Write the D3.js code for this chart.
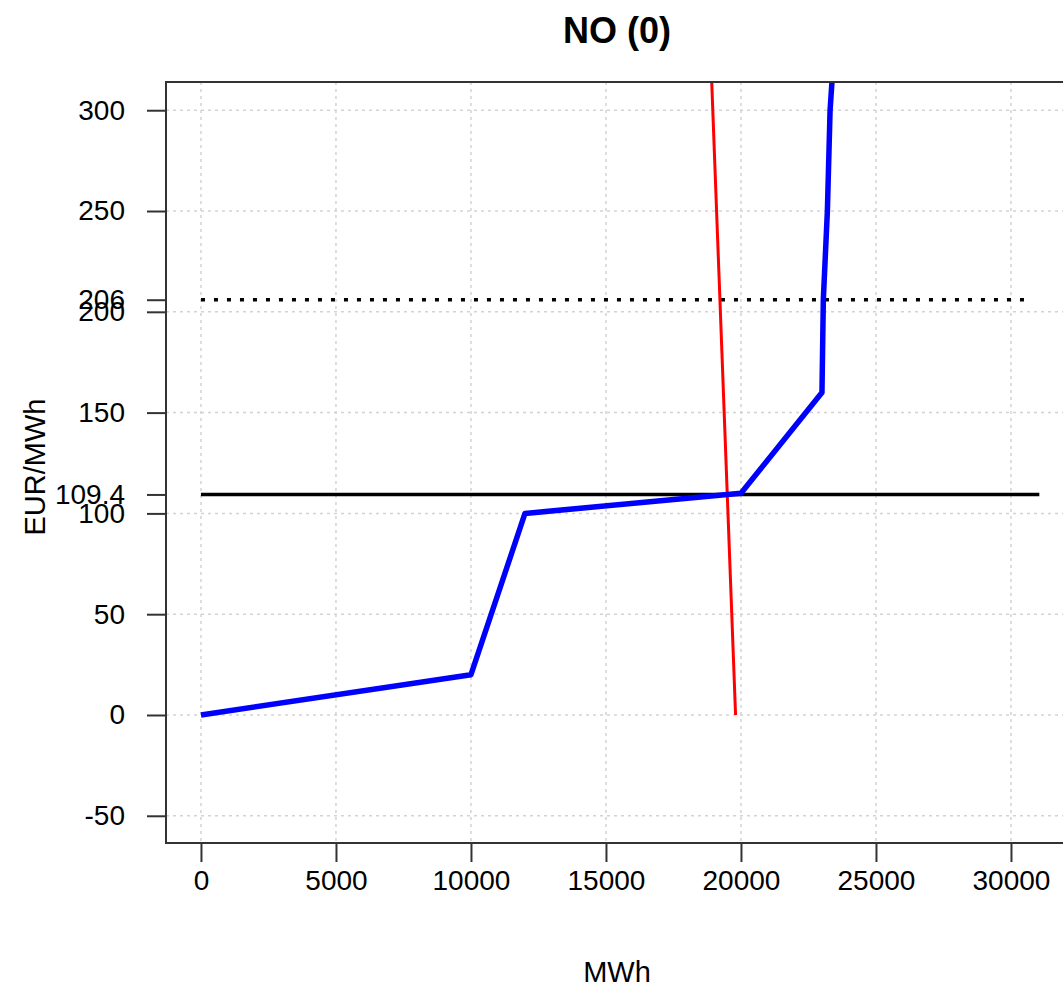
<!DOCTYPE html>
<head>
  <meta charset="utf-8">
  <style>
  body { margin: 0; background: #fff; }
  svg text { font-family: "Liberation Sans", Arial, sans-serif; fill: #000; }
  .grid line { stroke: #d3d3d3; stroke-width: 1.5px; stroke-dasharray: 3,4; }
  .axis line, .axis path { stroke: #333; stroke-width: 2px; }
  </style>
  <script src="https://d3js.org/d3.v7.min.js"></script>
</head>

<body>
  <svg width="1063" height="998"></svg>

  <script>

  // data
  var title = "NO (0)";
  var xTicks = [0, 5000, 10000, 15000, 20000, 25000, 30000];
  var yTicks = [-50, 0, 50, 100, 150, 200, 250, 300];
  var supplyMWh   = [0, 10000, 12000, 20000, 23000, 23050, 23200, 23300, 23450];
  var supplyPrice = [0, 20, 100, 110, 160, 206, 250, 300, 330];
  var demandMWh   = [19800, 18900];
  var demandPrice = [0, 320];
  var clearPrice = 109.4;
  var clearEnd = 31050;
  var capPrice = 206;
  var capEnd = 30700;

  var svg = d3.select("svg");
  var pLeft = 166, pRight = 1067, pTop = 82, pBottom = 843;

  var x = d3.scaleLinear().domain([-1295, 32075]).range([pLeft, pRight]);
  var y = d3.scaleLinear().domain([-63.5, 314]).range([pBottom, pTop]);

  svg.append("clipPath").attr("id", "plot")
    .append("rect").attr("x", pLeft).attr("y", pTop)
    .attr("width", pRight - pLeft).attr("height", pBottom - pTop);

  // grid
  var grid = svg.append("g").attr("class", "grid");
  grid.selectAll(".gx").data(xTicks).enter().append("line")
    .attr("x1", function(d) { return x(d); }).attr("x2", function(d) { return x(d); })
    .attr("y1", pTop).attr("y2", pBottom);
  grid.selectAll(".gy").data(yTicks).enter().append("line")
    .attr("y1", function(d) { return y(d); }).attr("y2", function(d) { return y(d); })
    .attr("x1", pLeft).attr("x2", pRight);

  var plot = svg.append("g").attr("clip-path", "url(#plot)");

  // reference lines
  plot.append("line")
    .attr("x1", x(0)).attr("x2", x(capEnd))
    .attr("y1", y(capPrice)).attr("y2", y(capPrice))
    .attr("stroke", "#000").attr("stroke-width", 3.5)
    .attr("stroke-dasharray", "4,9");
  plot.append("line")
    .attr("x1", x(0)).attr("x2", x(clearEnd))
    .attr("y1", y(clearPrice)).attr("y2", y(clearPrice))
    .attr("stroke", "#000").attr("stroke-width", 3.5);

  var line = d3.line()
    .x(function(d) { return x(d[0]); })
    .y(function(d) { return y(d[1]); });

  plot.append("path")
    .datum(d3.zip(demandMWh, demandPrice))
    .attr("d", line)
    .attr("fill", "none").attr("stroke", "#ff0000").attr("stroke-width", 3);

  plot.append("path")
    .datum(d3.zip(supplyMWh, supplyPrice))
    .attr("d", line)
    .attr("fill", "none").attr("stroke", "#0000ff").attr("stroke-width", 5.5)
    .attr("stroke-linejoin", "round");

  // axes
  var xAxis = svg.append("g").attr("class", "axis")
    .attr("transform", "translate(0," + pBottom + ")")
    .call(d3.axisBottom(x).tickValues(xTicks).tickFormat(d3.format("d"))
      .tickSize(19).tickSizeOuter(0).tickPadding(8));
  xAxis.select(".domain").remove();
  xAxis.selectAll("text").style("font-size", "28px");

  var yAxis = svg.append("g").attr("class", "axis")
    .attr("transform", "translate(" + pLeft + ",0)")
    .call(d3.axisLeft(y).tickValues(yTicks.concat([capPrice, clearPrice]))
      .tickFormat(function(d) { return d === clearPrice ? "109.4" : d; })
      .tickSize(19).tickSizeOuter(0).tickPadding(22));
  yAxis.select(".domain").remove();
  yAxis.selectAll("text").style("font-size", "28px");

  // box
  svg.append("rect")
    .attr("x", pLeft).attr("y", pTop)
    .attr("width", pRight - pLeft).attr("height", pBottom - pTop)
    .attr("fill", "none").attr("stroke", "#333").attr("stroke-width", 2);

  // labels
  svg.append("text")
    .attr("x", 617).attr("y", 43)
    .attr("text-anchor", "middle")
    .style("font-size", "36px").style("font-weight", "bold")
    .text(title);

  svg.append("text")
    .attr("x", 617).attr("y", 982)
    .attr("text-anchor", "middle")
    .style("font-size", "29px")
    .text("MWh");

  svg.append("text")
    .attr("transform", "translate(45,467) rotate(-90)")
    .attr("text-anchor", "middle")
    .style("font-size", "29px")
    .text("EUR/MWh");

  </script>
</body>
